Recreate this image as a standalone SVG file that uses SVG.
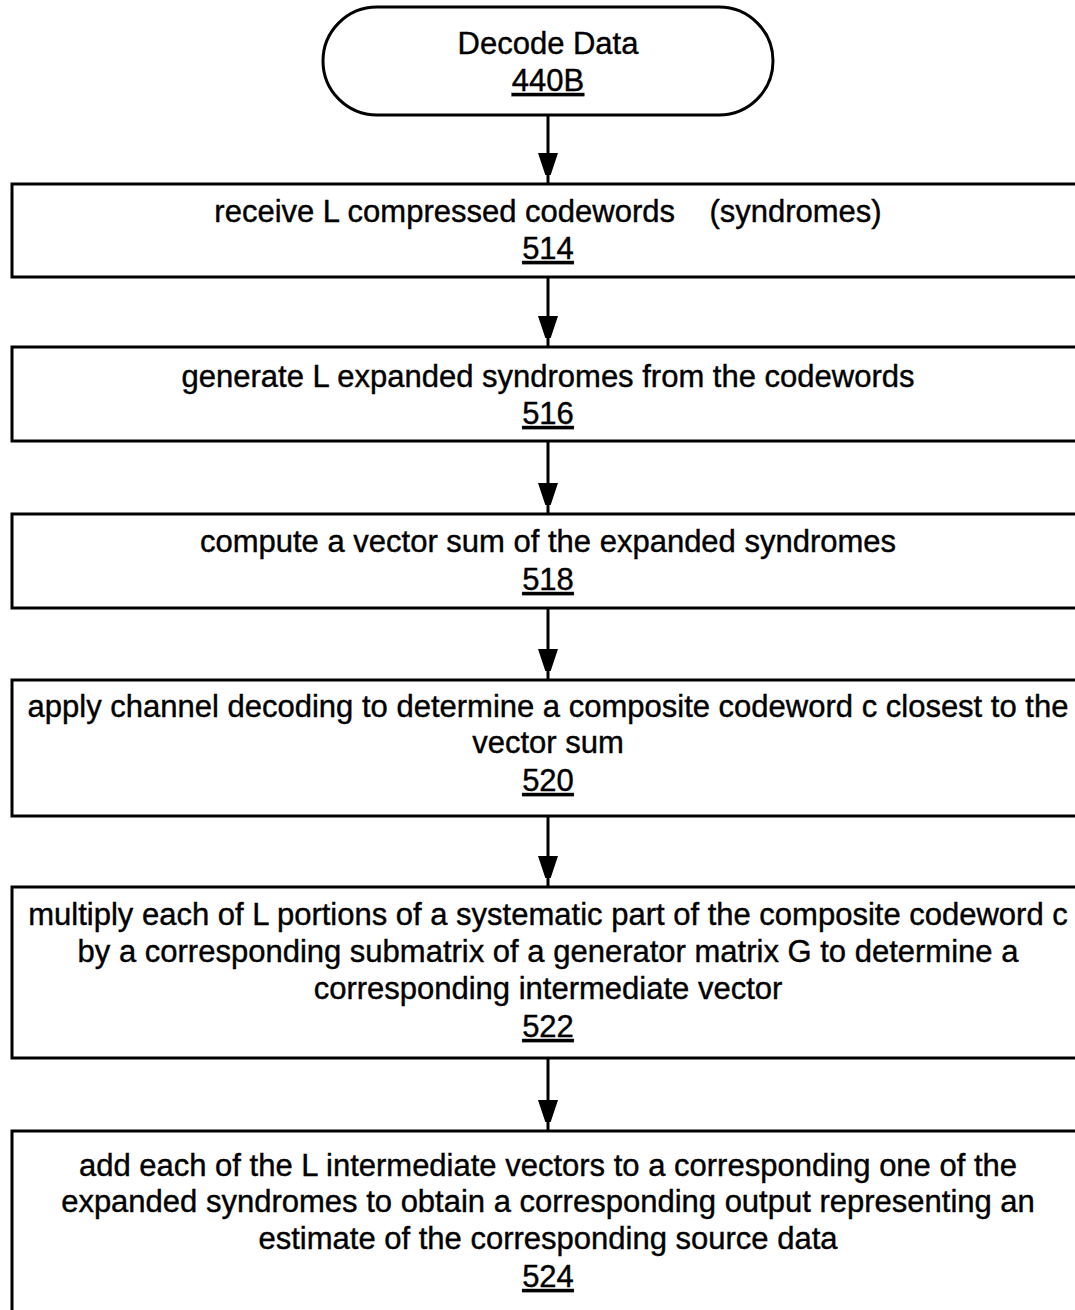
<svg xmlns="http://www.w3.org/2000/svg" width="1075" height="1310" viewBox="0 0 1075 1310">
<defs>
<marker id="ah" markerUnits="userSpaceOnUse" markerWidth="22" markerHeight="32" refX="30" refY="10" orient="auto">
<path d="M0,0 L30,10 L0,20 Z" fill="#000"/>
</marker>
</defs>
<style>
.box{fill:#fff;stroke:#000;stroke-width:3}
.t{font-family:"Liberation Sans",Arial,sans-serif;font-size:31px;text-anchor:middle;fill:#000;stroke:#000;stroke-width:0.4}
.n{text-decoration:underline}
.c{stroke:#000;stroke-width:3;fill:none;marker-end:url(#ah)}
</style>
<rect width="1075" height="1310" fill="#fff"/>
<g id="connectors">
<line class="c" x1="548" y1="115" x2="548" y2="183"/>
<line class="c" x1="548" y1="277" x2="548" y2="346"/>
<line class="c" x1="548" y1="441" x2="548" y2="513"/>
<line class="c" x1="548" y1="608" x2="548" y2="679"/>
<line class="c" x1="548" y1="816" x2="548" y2="886"/>
<line class="c" x1="548" y1="1058" x2="548" y2="1130"/>
</g>
<g id="n440B">
<rect class="box" x="323" y="7" width="450" height="108" rx="54" ry="54"/>
<text class="t" x="548" y="54">Decode Data</text>
<text class="t n" x="548" y="91">440B</text>
</g>
<g id="n514">
<rect class="box" x="12" y="184" width="1080" height="93"/>
<text class="t" x="548" y="222" xml:space="preserve">receive L compressed codewords    (syndromes)</text>
<text class="t n" x="548" y="259">514</text>
</g>
<g id="n516">
<rect class="box" x="12" y="347" width="1080" height="94"/>
<text class="t" x="548" y="387">generate L expanded syndromes from the codewords</text>
<text class="t n" x="548" y="424">516</text>
</g>
<g id="n518">
<rect class="box" x="12" y="514" width="1080" height="94"/>
<text class="t" x="548" y="552">compute a vector sum of the expanded syndromes</text>
<text class="t n" x="548" y="590">518</text>
</g>
<g id="n520">
<rect class="box" x="12" y="680" width="1080" height="136"/>
<text class="t" x="548" y="717">apply channel decoding to determine a composite codeword c closest to the</text>
<text class="t" x="548" y="753">vector sum</text>
<text class="t n" x="548" y="791">520</text>
</g>
<g id="n522">
<rect class="box" x="12" y="887" width="1080" height="171"/>
<text class="t" x="548" y="925">multiply each of L portions of a systematic part of the composite codeword c</text>
<text class="t" x="548" y="962">by a corresponding submatrix of a generator matrix G to determine a</text>
<text class="t" x="548" y="999">corresponding intermediate vector</text>
<text class="t n" x="548" y="1037">522</text>
</g>
<g id="n524">
<rect class="box" x="12" y="1131" width="1080" height="200"/>
<text class="t" x="548" y="1176">add each of the L intermediate vectors to a corresponding one of the</text>
<text class="t" x="548" y="1212">expanded syndromes to obtain a corresponding output representing an</text>
<text class="t" x="548" y="1249">estimate of the corresponding source data</text>
<text class="t n" x="548" y="1287">524</text>
</g>
</svg>
